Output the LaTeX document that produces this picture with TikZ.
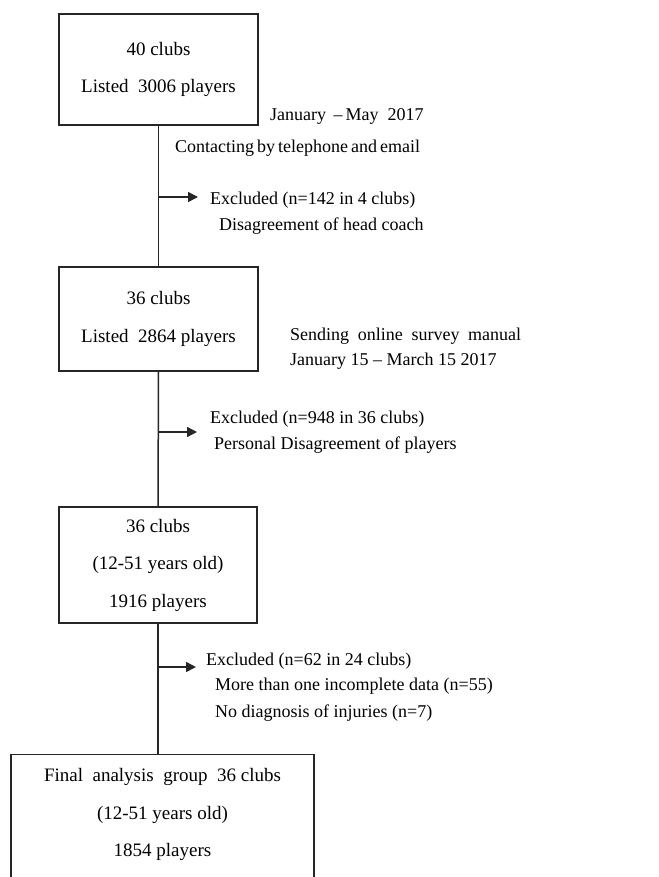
\documentclass[tikz,border=0pt]{standalone}
\usepackage{fontspec}
\setmainfont{Liberation Serif}
\usetikzlibrary{arrows.meta}
\begin{document}
\begin{tikzpicture}[x=1pt,y=-1pt,
  box/.style={draw=black!85, line width=1.4pt, inner sep=0pt, align=center, font=\fontsize{19}{37.5}\selectfont},
  boxtext/.style={inner sep=0pt, align=center, font=\fontsize{19}{37.5}\selectfont},
  side/.style={anchor=base west, inner sep=0pt, font=\fontsize{18}{26}\selectfont},
  link/.style={draw=black!85, line width=1.5pt},
  arr/.style={link, -{Triangle[length=10pt,width=10pt]}}]
\useasboundingbox (0,0) rectangle (658,877);
\clip (0,0) rectangle (658,877);
% boxes
\node[box, minimum width=199pt, minimum height=111pt] (b1) at (158.5,69.5) {40 clubs\\Listed\ \ 3006 players};
\node[box, minimum width=199pt, minimum height=104pt] (b2) at (158.5,319) {36 clubs\\Listed\ \ 2864 players};
\node[box, minimum width=198pt, minimum height=116pt] (b3) at (158,565) {36 clubs\\(12-51 years old)\\1916 players};
\node[box, minimum width=303pt, minimum height=160pt, anchor=north] (b4) at (162.5,754) {};
\node[boxtext] (t4) at (162.5,814.5) {Final\ \ analysis\ \ group\ \ 36 clubs\\(12-51 years old)\\1854 players};
% side texts
\node[side] (jan) at (270,121) {January \,–\,May\ \ 2017};
\node[side] (contact) at (175,153) {\hbox to 244pt{Contacting by telephone and email}};
\node[side] (ex1a) at (210,205) {Excluded (n=142 in 4 clubs)};
\node[side] (ex1b) at (219,231) {Disagreement of head coach};
\node[side] (send) at (290,340) {\hbox to 231pt{Sending\hfill online\hfill survey\hfill manual}};
\node[side] (jan15) at (290,365) {January 15 – March 15 2017};
\node[side] (ex2a) at (210,423) {Excluded (n=948 in 36 clubs)};
\node[side] (ex2b) at (214,449) {Personal Disagreement of players};
\node[side] (ex3a) at (206,665) {Excluded (n=62 in 24 clubs)};
\node[side] (ex3b) at (215,690) {More than one incomplete data (n=55)};
\node[side] (ex3c) at (215,717) {No diagnosis of injuries (n=7)};
% connectors
\draw[link] (b1.south) -- (b2.north);
\draw[link] (b2.south) -- (b3.north);
\draw[link] (b3.south) -- (b3.south |- b4.north);
\coordinate (a1s) at (158.5,197);
\coordinate (a1e) at (198,197);
\coordinate (a2s) at (158.5,432);
\coordinate (a2e) at (197,432);
\coordinate (a3s) at (158,667);
\coordinate (a3e) at (196,667);
\draw[arr] (a1s) -- (a1e);
\draw[arr] (a2s) -- (a2e);
\draw[arr] (a3s) -- (a3e);
\end{tikzpicture}
\end{document}
